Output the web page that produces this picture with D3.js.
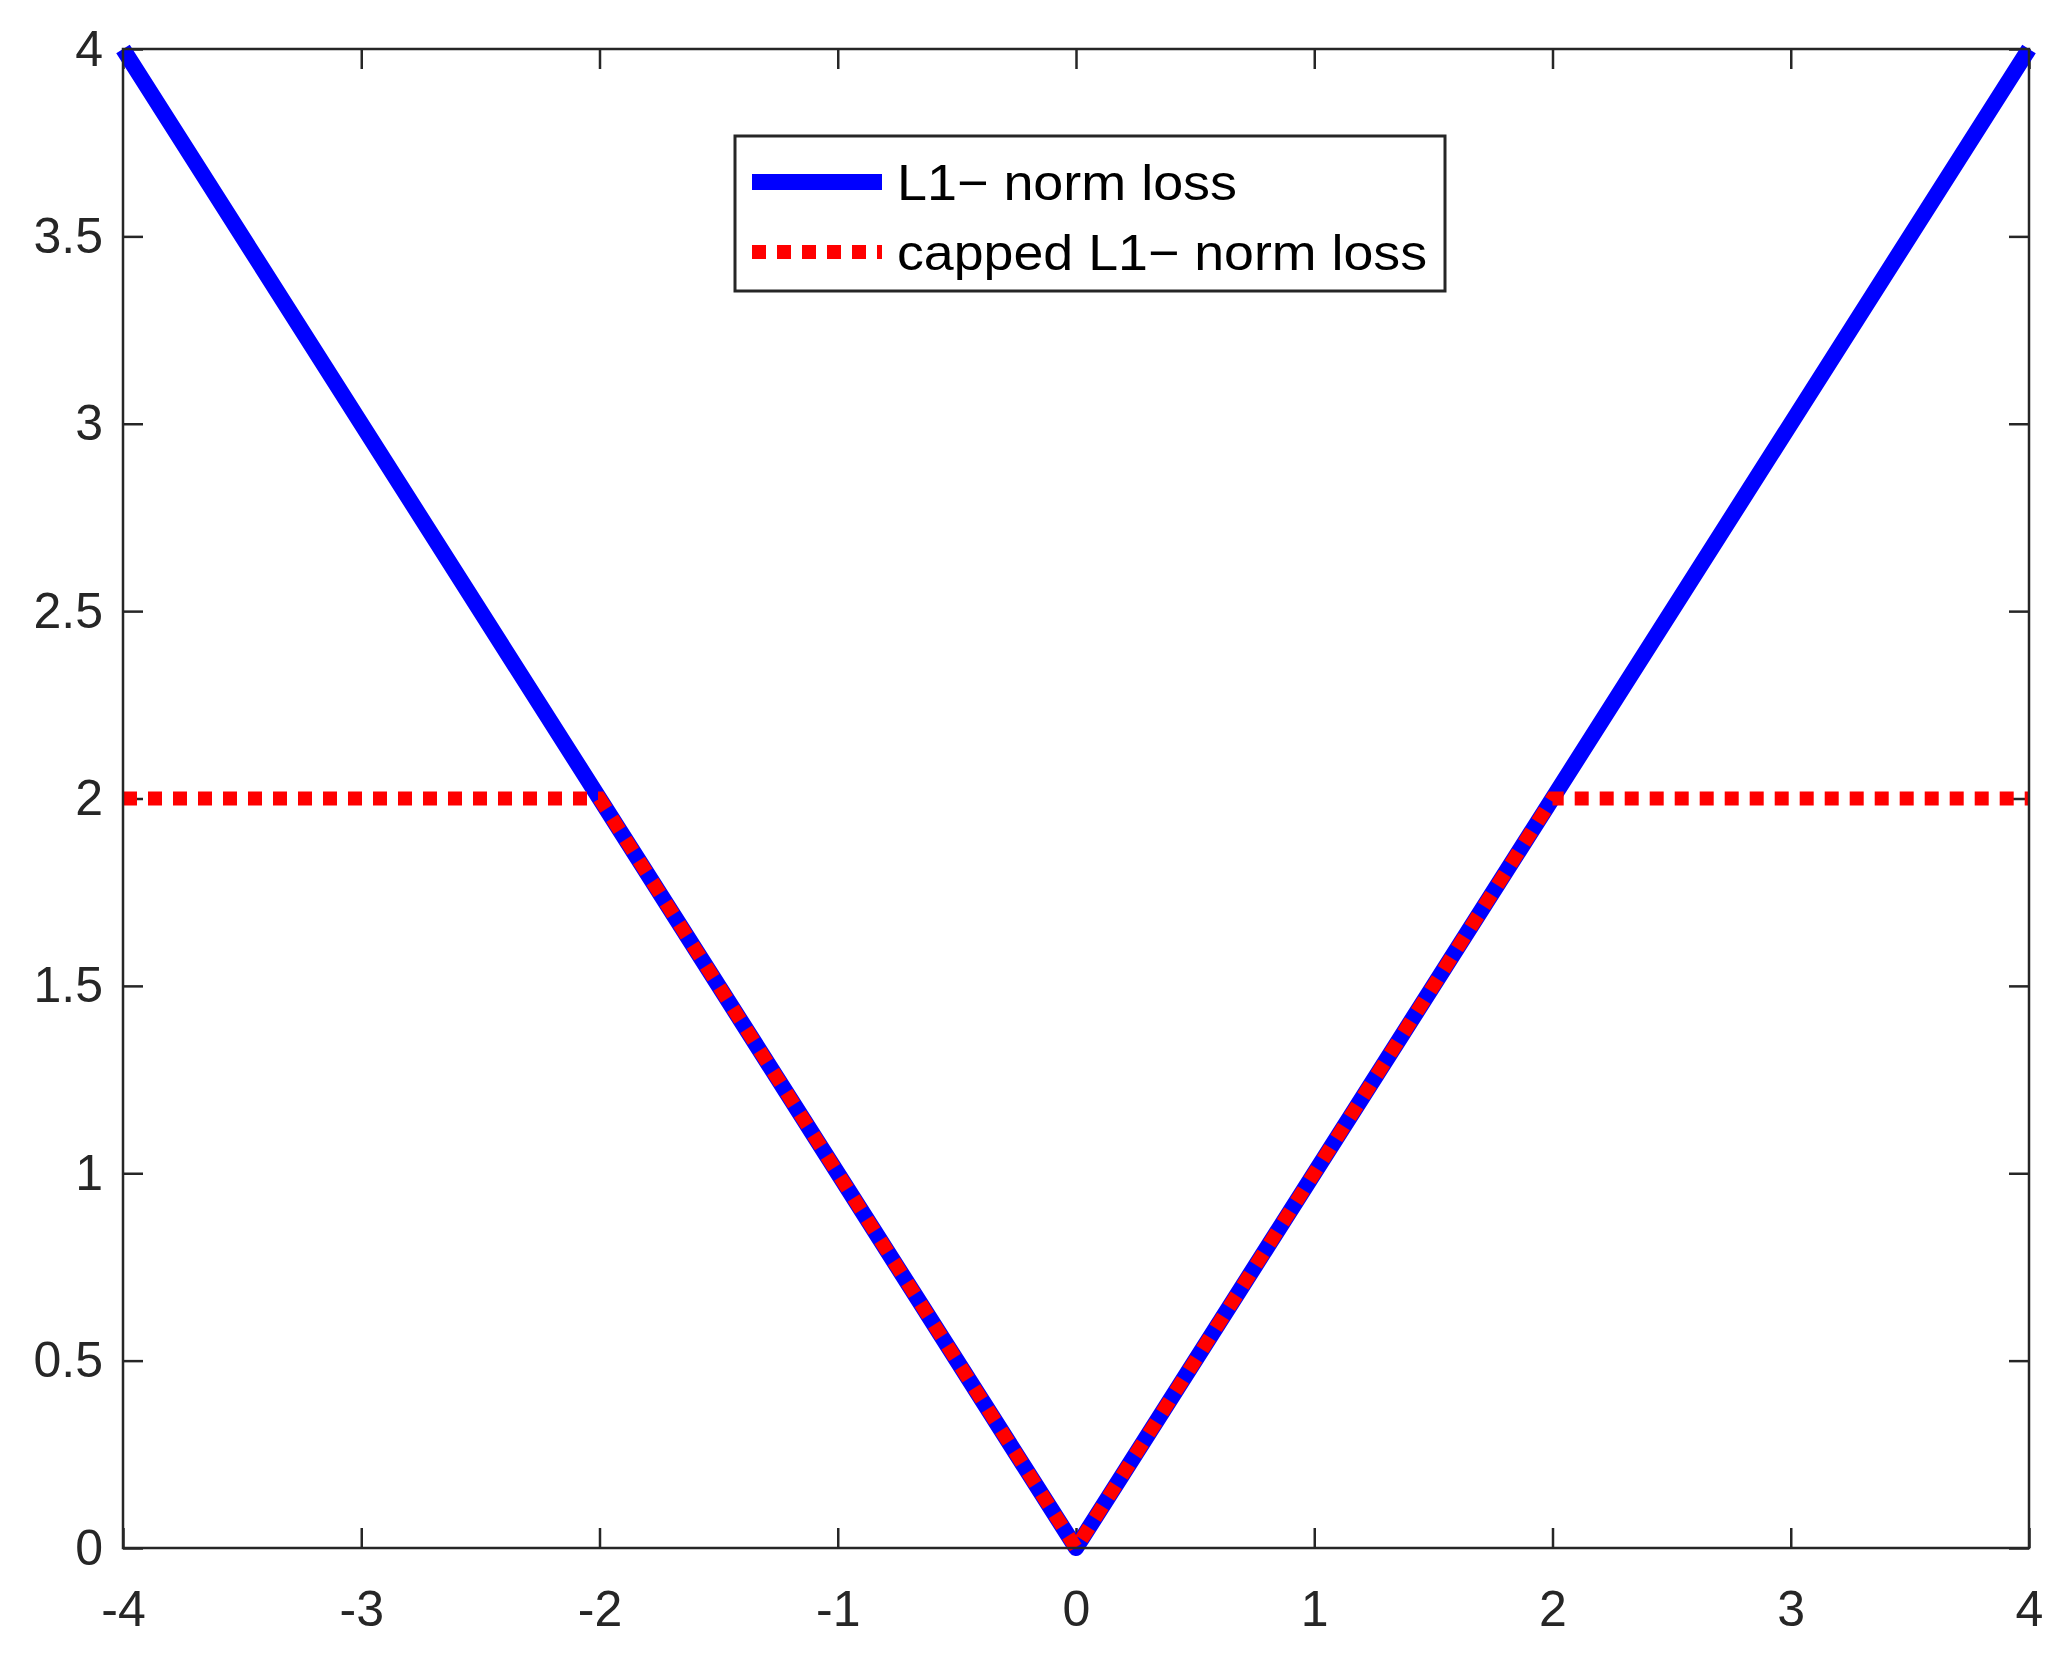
<!DOCTYPE html><html><head><meta charset="utf-8"><script src="https://cdn.jsdelivr.net/npm/d3@7"></script>
<style>body{margin:0;background:#fff}svg{display:block}text{font-family:"Liberation Sans",Arial,sans-serif}</style></head><body>
<script>
const xTicks=[-4,-3,-2,-1,0,1,2,3,4];
const yTicks=[0,0.5,1,1.5,2,2.5,3,3.5,4];
const l1X=[-4,-2,0,2,4];
const l1Y=[4,2,0,2,4];
const cappedX=[-4,-2,0,2,4];
const cappedY=[2,2,0,2,2];
const seriesNames=["L1\u2212 norm loss","capped L1\u2212 norm loss"];
const W=2061,H=1661,L=123,R=2029,T=49,B=1548;
const svg=d3.select("body").append("svg").attr("width",W).attr("height",H);
const x=d3.scaleLinear().domain([-4,4]).range([L,R]);
const y=d3.scaleLinear().domain([0,4]).range([B,T]);
const tl=20,col="#262626";
const g=svg.append("g");
const ax=(sel)=>{sel.selectAll(".domain").remove();sel.selectAll("line").attr("stroke",col).attr("stroke-width",2.5);sel.selectAll("text").attr("fill",col).style("font-size","52px").attr("transform","scale(0.9,1.12)");};
const axX=(sel)=>{ax(sel);sel.selectAll(".tick text").each(function(){d3.select(this).attr("transform",null).style("font-size","50px");});};
g.append("g").attr("transform",`translate(0,${B})`).call(d3.axisBottom(x).tickValues(xTicks).tickFormat(d=>String(d)).tickSizeInner(-tl).tickPadding(42)).call(axX);
g.append("g").attr("transform",`translate(0,${T})`).call(d3.axisTop(x).tickValues(xTicks).tickFormat("").tickSizeInner(-tl)).call(ax);
g.append("g").attr("transform",`translate(${L},0)`).call(d3.axisLeft(y).tickValues(yTicks).tickFormat(d=>String(d)).tickSizeInner(-tl).tickPadding(20)).call(sel=>{ax(sel);sel.selectAll(".tick text").attr("transform",null).style("font-size","50px");});
g.append("g").attr("transform",`translate(${R},0)`).call(d3.axisRight(y).tickValues(yTicks).tickFormat("").tickSizeInner(-tl)).call(ax);
const line=d3.line().x(d=>x(d[0])).y(d=>y(d[1]));
svg.append("path").datum(l1X.map((v,i)=>[v,l1Y[i]])).attr("d",line).attr("fill","none").attr("stroke","#0000ff").attr("stroke-width",16).attr("stroke-linejoin","round");
svg.append("path").datum(cappedX.map((v,i)=>[v,cappedY[i]])).attr("d",line).attr("fill","none").attr("stroke","#ff0000").attr("stroke-width",14).attr("stroke-dasharray","14,11");
svg.append("rect").attr("x",L).attr("y",T).attr("width",R-L).attr("height",B-T).attr("fill","none").attr("stroke",col).attr("stroke-width",2.5);
const lg=svg.append("g");
lg.append("rect").attr("x",735).attr("y",136).attr("width",710).attr("height",155).attr("fill","#fff").attr("stroke",col).attr("stroke-width",3);
lg.append("line").attr("x1",752).attr("x2",882).attr("y1",182).attr("y2",182).attr("stroke","#0000ff").attr("stroke-width",16);
lg.append("line").attr("x1",752).attr("x2",882).attr("y1",252).attr("y2",252).attr("stroke","#ff0000").attr("stroke-width",14).attr("stroke-dasharray","14,11");
lg.append("text").attr("x",897).attr("y",200).style("font-size","50px").attr("fill","#000").attr("textLength",340).attr("lengthAdjust","spacingAndGlyphs").text(seriesNames[0]);
lg.append("text").attr("x",897).attr("y",270).style("font-size","50px").attr("fill","#000").attr("textLength",530).attr("lengthAdjust","spacingAndGlyphs").text(seriesNames[1]);
</script></body></html>
